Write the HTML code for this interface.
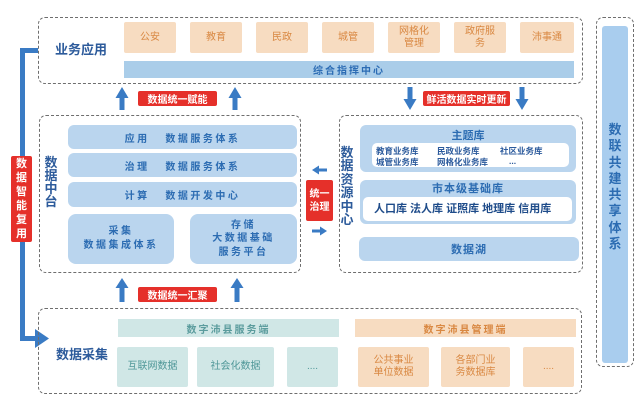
<!DOCTYPE html>
<html><head><meta charset="utf-8">
<style>
*{margin:0;padding:0;box-sizing:border-box}
body{width:644px;height:408px;background:#fff;position:relative;overflow:hidden;font-family:"Liberation Sans","Noto Sans CJK SC",sans-serif;font-weight:bold}
.a{position:absolute}
.dash{position:absolute;border:1px dashed #6e6e6e;border-radius:7px}
.c{display:flex;align-items:center;justify-content:center;text-align:center}
.or{position:absolute;background:#f7dcc1;color:#d98842;font-size:10px;line-height:12px;border-radius:2px;font-weight:normal;display:flex;align-items:center;justify-content:center;text-align:center}
.te{position:absolute;background:#d0e7e6;color:#4f9798;font-size:10px;line-height:12px;border-radius:2px;font-weight:normal;display:flex;align-items:center;justify-content:center;text-align:center}
.red{position:absolute;background:#e5302a;color:#fff;font-size:10px;border-radius:2px;display:flex;align-items:center;justify-content:center;text-align:center;z-index:5}
.bl{position:absolute;background:#bad5ee;color:#2c6cb2;font-size:10px;letter-spacing:2.5px;border-radius:6px;display:flex;align-items:center;justify-content:center;text-align:center}
.lab{position:absolute;color:#2d5b9b;font-size:13px;line-height:14px}
.vt{position:absolute;color:#2d5b9b;font-size:13px;text-align:center;word-break:break-all}
.sm{position:absolute;font-size:8.5px;color:#2b5a9c;white-space:nowrap;line-height:10px}
</style></head><body>

<!-- arrows (drawn first, below labels) -->
<svg class="a" style="left:0;top:0" width="644" height="408" viewBox="0 0 644 408">
 <g fill="#3a7bc4">
  <rect x="20" y="48" width="18" height="5"/>
  <rect x="20" y="48" width="5" height="293"/>
  <rect x="20" y="336" width="16" height="5"/>
  <polygon points="35,329 49,338.5 35,348"/>
  <polygon points="115.5,98 122,87 128.5,98"/><rect x="119.5" y="97" width="5" height="13"/>
  <polygon points="228.5,98 235,87 241.5,98"/><rect x="232.5" y="97" width="5" height="13"/>
  <rect x="407.5" y="87" width="5" height="13"/><polygon points="403.5,99 410,110 416.5,99"/>
  <rect x="519.5" y="87" width="5" height="13"/><polygon points="515.5,99 522,110 528.5,99"/>
  <polygon points="115.5,288 122,278 128.5,288"/><rect x="119.5" y="287" width="5" height="15"/>
  <polygon points="230.5,288 237,278 243.5,288"/><rect x="234.5" y="287" width="5" height="15"/>
  <polygon points="312,170 319,165.5 319,174.5"/><rect x="318" y="168.5" width="9" height="3"/>
  <rect x="312" y="229.5" width="9" height="3"/><polygon points="327,231 320,226.5 320,235.5"/>
 </g>
</svg>

<!-- 业务应用 -->
<div class="dash" style="left:38px;top:17px;width:545px;height:67px"></div>
<div class="lab" style="left:55px;top:43px">业务应用</div>
<div class="or" style="left:124px;top:22px;width:52px;height:31px">公安</div>
<div class="or" style="left:190px;top:22px;width:52px;height:31px">教育</div>
<div class="or" style="left:256px;top:22px;width:52px;height:31px">民政</div>
<div class="or" style="left:322px;top:22px;width:52px;height:31px">城管</div>
<div class="or" style="left:388px;top:22px;width:52px;height:31px">网格化<br>管理</div>
<div class="or" style="left:454px;top:22px;width:52px;height:31px">政府服<br>务</div>
<div class="or" style="left:520px;top:22px;width:54px;height:31px">沛事通</div>
<div class="a c" style="left:124px;top:61px;width:450px;height:17px;background:#aacde9;color:#2c6cb4;font-size:10px;letter-spacing:2px">综合指挥中心</div>

<!-- red labels -->
<div class="red" style="left:138px;top:91px;width:79px;height:15px">数据统一赋能</div>
<div class="red" style="left:423px;top:91px;width:87px;height:15px">鲜活数据实时更新</div>
<div class="red" style="left:138px;top:287px;width:79px;height:15px">数据统一汇聚</div>
<div class="red" style="left:306px;top:180px;width:27px;height:41px;line-height:13px">统一<br>治理</div>
<div class="red" style="left:11px;top:156px;width:21px;height:86px;font-size:11px;line-height:14px;flex-direction:column">数<br>据<br>智<br>能<br>复<br>用</div>

<!-- 数据中台 -->
<div class="dash" style="left:39px;top:115px;width:262px;height:158px"></div>
<div class="vt" style="left:44px;top:156px;width:14px;line-height:13px">数据中台</div>
<div class="bl" style="left:68px;top:125px;width:229px;height:24px">应用&nbsp;&nbsp;&nbsp;数据服务体系</div>
<div class="bl" style="left:68px;top:153px;width:229px;height:24px">治理&nbsp;&nbsp;&nbsp;数据服务体系</div>
<div class="bl" style="left:68px;top:182px;width:229px;height:25px">计算&nbsp;&nbsp;&nbsp;数据开发中心</div>
<div class="bl" style="left:68px;top:214px;width:106px;height:50px;line-height:14px;border-radius:8px">采集<br>数据集成体系</div>
<div class="bl" style="left:190px;top:214px;width:107px;height:50px;line-height:13.5px;border-radius:8px">存储<br>大数据基础<br>服务平台</div>

<!-- 数据资源中心 -->
<div class="dash" style="left:339px;top:115px;width:244px;height:158px"></div>
<div class="vt" style="left:340px;top:146px;width:14px;line-height:13.4px">数据资源中心</div>
<div class="a" style="left:360px;top:125px;width:216px;height:47px;background:#bad5ee;border-radius:6px"></div>
<div class="a c" style="left:360px;top:128px;width:216px;height:14px;color:#2c6cb2;font-size:11px">主题库</div>
<div class="a" style="left:372px;top:143px;width:197px;height:24px;background:#fff;border-radius:5px"></div>
<div class="sm" style="left:376px;top:146px">教育业务库</div>
<div class="sm" style="left:437px;top:146px">民政业务库</div>
<div class="sm" style="left:500px;top:146px">社区业务库</div>
<div class="sm" style="left:376px;top:157px">城管业务库</div>
<div class="sm" style="left:437px;top:157px">网格化业务库</div>
<div class="sm" style="left:509px;top:156px">...</div>

<div class="a" style="left:360px;top:180px;width:216px;height:44px;background:#bad5ee;border-radius:6px"></div>
<div class="a c" style="left:360px;top:181px;width:216px;height:14px;color:#2c6cb2;font-size:11px;letter-spacing:1px">市本级基础库</div>
<div class="a" style="left:363px;top:197px;width:209px;height:24px;background:#fff;border-radius:5px"></div>
<div class="a" style="left:374px;top:202px;font-size:11px;color:#1f4c8a;white-space:nowrap;line-height:14px">人口库 法人库 证照库 地理库 信用库</div>
<div class="a c" style="left:359px;top:237px;width:220px;height:24px;background:#bad5ee;border-radius:6px;color:#2c6cb2;font-size:11px;letter-spacing:1px">数据湖</div>

<!-- right column -->
<div class="dash" style="left:596px;top:17px;width:38px;height:350px"></div>
<div class="a" style="left:602px;top:26px;width:26px;height:337px;background:#a9cdee;border-radius:3px"></div>
<div class="vt" style="left:608px;top:122px;width:14px;line-height:16.3px;color:#2c6cb2">数联共建共享体系</div>

<!-- 数据采集 -->
<div class="dash" style="left:38px;top:308px;width:544px;height:86px"></div>
<div class="lab" style="left:56px;top:348px">数据采集</div>
<div class="a c" style="left:118px;top:319px;width:221px;height:18px;background:#d0e7e6;color:#5b9c9d;font-size:10px;letter-spacing:2px">数字沛县服务端</div>
<div class="te" style="left:117px;top:347px;width:71px;height:40px">互联网数据</div>
<div class="te" style="left:197px;top:347px;width:77px;height:40px">社会化数据</div>
<div class="te" style="left:287px;top:347px;width:51px;height:40px">....</div>
<div class="a c" style="left:355px;top:319px;width:221px;height:18px;background:#f7dcc1;color:#d98842;font-size:10px;letter-spacing:2px">数字沛县管理端</div>
<div class="or" style="left:358px;top:347px;width:71px;height:40px">公共事业<br>单位数据</div>
<div class="or" style="left:441px;top:347px;width:69px;height:40px">各部门业<br>务数据库</div>
<div class="or" style="left:523px;top:347px;width:51px;height:40px">....</div>

</body></html>
